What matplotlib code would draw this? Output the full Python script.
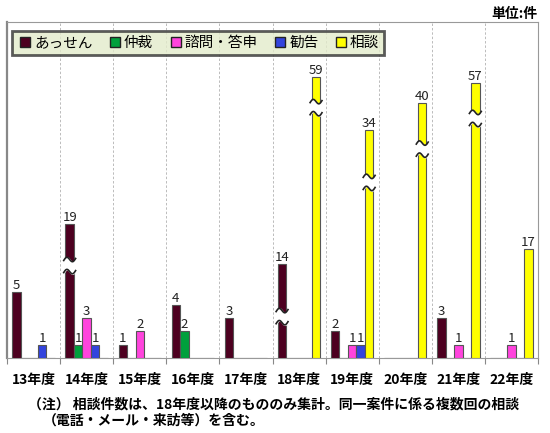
import numpy as np
import matplotlib.pyplot as plt
from matplotlib.lines import Line2D
from matplotlib.transforms import blended_transform_factory

plt.rcParams['font.family'] = ['Noto Sans CJK JP', 'DejaVu Sans']

years = ['13年度', '14年度', '15年度', '16年度', '17年度',
         '18年度', '19年度', '20年度', '21年度', '22年度']
series = ['あっせん', '仲裁', '諮問・答申', '勧告', '相談']
assen = [5, 19, 1, 4, 3, 14, 2, 0, 3, 0]
chusai = [0, 1, 0, 2, 0, 0, 0, 0, 0, 0]
shimon = [0, 3, 2, 0, 0, 0, 1, 0, 1, 1]
kankoku = [1, 1, 0, 0, 0, 0, 1, 0, 0, 0]
soudan = [0, 0, 0, 0, 0, 59, 34, 40, 57, 17]
colors = ['#4d0020', '#00a03c', '#ff44dd', '#3344dd', '#ffff00']

# 波線で省略された棒の高さ（値 -> 表示上の高さ）
knot_val = [0, 5, 14, 17, 19, 34, 40, 57, 59, 70]
knot_disp = [0, 5, 7.08, 8.21, 10.09, 17.17, 19.18, 20.73, 21.18, 25.3]
# 省略記号の位置 (年度, 系列, 棒の高さに対する割合)
breaks = [(1, 0, 0.69), (5, 0, 0.44), (5, 4, 0.89),
          (6, 4, 0.77), (7, 4, 0.82), (8, 4, 0.87)]


def fwd(v):
    return np.interp(v, knot_val, knot_disp)


def inv(d):
    return np.interp(d, knot_disp, knot_val)


fig = plt.figure(figsize=(5.5, 4.33), dpi=100)
ax = fig.add_axes([7 / 550, 75 / 433, 531 / 550, 336 / 433])
ax.set_yscale('function', functions=(fwd, inv))
ax.set_ylim(0, 70)
ax.set_xlim(-0.5, len(years) - 0.5)

data = [assen, chusai, shimon, kankoku, soudan]
x = np.arange(len(years))
w = 0.16
for k, vals in enumerate(data):
    pos = x + (k - 2) * w
    ax.bar(pos, vals, width=w, color=colors[k], edgecolor='#555555',
           linewidth=0.8, zorder=3)
    for xi, v in zip(pos, vals):
        if v > 0:
            ax.text(xi, v, str(v), ha='center', va='bottom', fontsize=9.5,
                    color='#222222', zorder=5)

# 省略記号
trans = blended_transform_factory(ax.transData, ax.transAxes)
for yi, k, frac in breaks:
    v = data[k][yi]
    yc = fwd(v) / knot_disp[-1] * frac
    xc = x[yi] + (k - 2) * w
    t = np.linspace(0, 1, 30)
    xs = xc - w * 0.7 + t * w * 1.4
    wave = 0.008 * np.sin(2 * np.pi * t) + 0.006 * (t - 0.5)
    gap = 0.018
    lo = yc - gap + wave
    hi = yc + gap + wave
    ax.fill_between(xs, lo, hi, color='white', transform=trans, zorder=4)
    ax.plot(xs, lo, color='#222222', lw=1.2, transform=trans, zorder=4)
    ax.plot(xs, hi, color='#222222', lw=1.2, transform=trans, zorder=4)

for b in np.arange(0.5, len(years) - 0.5, 1):
    ax.axvline(b, color='#bbbbbb', lw=0.7, ls=(0, (2.5, 2)), zorder=1)

ax.set_xticks(np.arange(-0.5, len(years), 1))
ax.set_xticklabels([])
ax.tick_params(axis='x', which='major', length=4, color='#888888')
ax.set_xticks(x, minor=True)
ax.set_xticklabels(years, minor=True, fontsize=10, fontweight='bold')
ax.tick_params(axis='x', which='minor', length=0, pad=11)
ax.set_yticks([])
ax.yaxis.set_minor_locator(plt.NullLocator())
for s in ['top', 'right', 'bottom']:
    ax.spines[s].set_color('#999999')
    ax.spines[s].set_linewidth(0.8)
ax.spines['left'].set_color('#888888')
ax.spines['left'].set_linewidth(1.6)

handles = [Line2D([], [], ls='none', marker='s', markersize=7,
                  markerfacecolor=c, markeredgecolor='#222222')
           for c in colors]
leg = ax.legend(handles, series, ncol=5, loc='upper left',
                bbox_to_anchor=(0.01, 0.973), fontsize=10.5, frameon=True,
                fancybox=False, handletextpad=0.1, columnspacing=1.0,
                handlelength=1.05, borderpad=0.35, borderaxespad=0)
leg.get_frame().set_facecolor('#e3ebcb')
leg.get_frame().set_edgecolor('#333333')
leg.get_frame().set_linewidth(2)
leg.set_zorder(6)

fig.text(537 / 550, 1 - 14 / 433, '単位:件', ha='right', va='center',
         fontsize=10, fontweight='bold')
fig.text(28 / 550, 1 - 405 / 433,
         '（注） 相談件数は、18年度以降のもののみ集計。同一案件に係る複数回の相談',
         ha='left', va='center', fontsize=10, fontweight='bold')
fig.text(43 / 550, 1 - 421 / 433, '（電話・メール・来訪等）を含む。',
         ha='left', va='center', fontsize=10, fontweight='bold')

fig.savefig('out.png', dpi=100)
